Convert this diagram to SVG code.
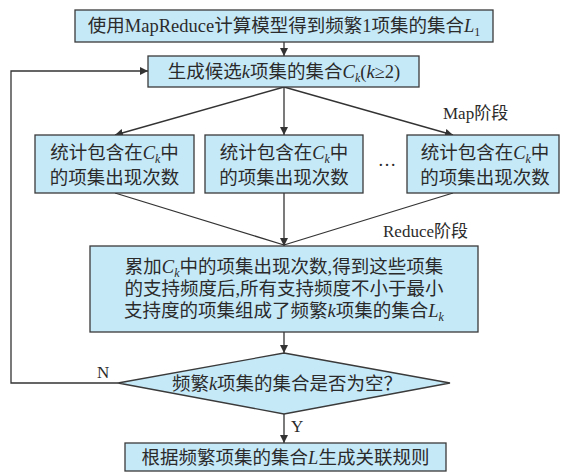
<svg xmlns="http://www.w3.org/2000/svg" width="561" height="472" viewBox="0 0 561 472">
  <style>
    .box { fill: #c6e9f8; stroke: #3a3a3a; stroke-width: 1.3; }
    .t { font-family: "Liberation Serif", "Noto Sans CJK SC", serif; font-size: 18.5px; fill: #2b2b2b; }
    .c { text-anchor: middle; }
    .lbl { font-family: "Liberation Serif", "Noto Sans CJK SC", serif; font-size: 17px; fill: #2b2b2b; }
    .i { font-style: italic; }
    .sub { font-size: 12px; }
    .ln { fill: none; stroke: #333; stroke-width: 1.3; }
  </style>
  <defs>
    <marker id="ah" viewBox="0 0 10 10" refX="10" refY="5" markerWidth="8" markerHeight="8" markerUnits="userSpaceOnUse" orient="auto">
      <path d="M0,0 L10,5 L0,10 Z" fill="#333"/>
    </marker>
  </defs>

  <!-- connectors -->
  <g id="connectors">
    <line class="ln" x1="284" y1="42" x2="284" y2="56" marker-end="url(#ah)"/>
    <polyline class="ln" points="118,383 11,383 11,71 148,71" marker-end="url(#ah)"/>
    <line class="ln" x1="284" y1="87" x2="115" y2="135" marker-end="url(#ah)"/>
    <line class="ln" x1="284" y1="87" x2="284" y2="135" marker-end="url(#ah)"/>
    <line class="ln" x1="284" y1="87" x2="453" y2="135" marker-end="url(#ah)"/>
    <line class="ln" x1="115" y1="193" x2="284" y2="245"/>
    <line class="ln" x1="453" y1="193" x2="284" y2="245"/>
    <line class="ln" x1="284" y1="193" x2="284" y2="246" marker-end="url(#ah)"/>
    <line class="ln" x1="284" y1="332" x2="284" y2="353" marker-end="url(#ah)"/>
    <line class="ln" x1="284" y1="414" x2="284" y2="443" marker-end="url(#ah)"/>
    <text class="lbl" x="443" y="119">Map阶段</text>
    <text class="lbl" x="383" y="237">Reduce阶段</text>
    <text class="lbl" x="97" y="378">N</text>
    <text class="lbl" x="291" y="432">Y</text>
  </g>

  <g id="n-l1">
    <rect class="box" x="75" y="10" width="418" height="32"/>
    <text class="t c" x="284" y="32">使用MapReduce计算模型得到频繁1项集的集合<tspan class="i">L</tspan><tspan class="sub" dy="4">1</tspan></text>
  </g>

  <g id="n-ck">
    <rect class="box" x="148" y="56" width="271" height="31"/>
    <text class="t c" x="284" y="78">生成候选<tspan class="i">k</tspan>项集的集合<tspan class="i">C</tspan><tspan class="sub i" dy="4">k</tspan><tspan dy="-4">(</tspan><tspan class="i">k</tspan>≥2)</text>
  </g>

  <g id="n-map1">
    <rect class="box" x="35" y="135" width="159" height="58"/>
    <text class="t c" x="114.5" y="159">统计包含在<tspan class="i">C</tspan><tspan class="sub i" dy="4">k</tspan><tspan dy="-4">中</tspan></text>
    <text class="t c" x="114.5" y="184">的项集出现次数</text>
  </g>

  <g id="n-map2">
    <rect class="box" x="205" y="135" width="158" height="58"/>
    <text class="t c" x="284" y="159">统计包含在<tspan class="i">C</tspan><tspan class="sub i" dy="4">k</tspan><tspan dy="-4">中</tspan></text>
    <text class="t c" x="284" y="184">的项集出现次数</text>
  </g>

  <text class="t c" x="387" y="166">…</text>

  <g id="n-map3">
    <rect class="box" x="407" y="135" width="152" height="58"/>
    <text class="t c" x="485" y="159">统计包含在<tspan class="i">C</tspan><tspan class="sub i" dy="4">k</tspan><tspan dy="-4">中</tspan></text>
    <text class="t c" x="485" y="184">的项集出现次数</text>
  </g>

  <g id="n-reduce">
    <rect class="box" x="90" y="246" width="388" height="86"/>
    <text class="t c" x="284" y="273">累加<tspan class="i">C</tspan><tspan class="sub i" dy="4">k</tspan><tspan dy="-4">中的项集出现次数,得到这些项集</tspan></text>
    <text class="t c" x="284" y="295">的支持频度后,所有支持频度不小于最小</text>
    <text class="t c" x="284" y="317">支持度的项集组成了频繁<tspan class="i">k</tspan>项集的集合<tspan class="i">L</tspan><tspan class="sub i" dy="4">k</tspan></text>
  </g>

  <g id="n-check">
    <polygon class="box" points="284,353 450,383 284,414 118,383"/>
    <text class="t c" x="287" y="390">频繁<tspan class="i">k</tspan>项集的集合是否为空？</text>
  </g>

  <g id="n-rules">
    <rect class="box" x="125" y="443" width="321" height="28"/>
    <text class="t c" x="285.5" y="464">根据频繁项集的集合<tspan class="i">L</tspan>生成关联规则</text>
  </g>
</svg>
